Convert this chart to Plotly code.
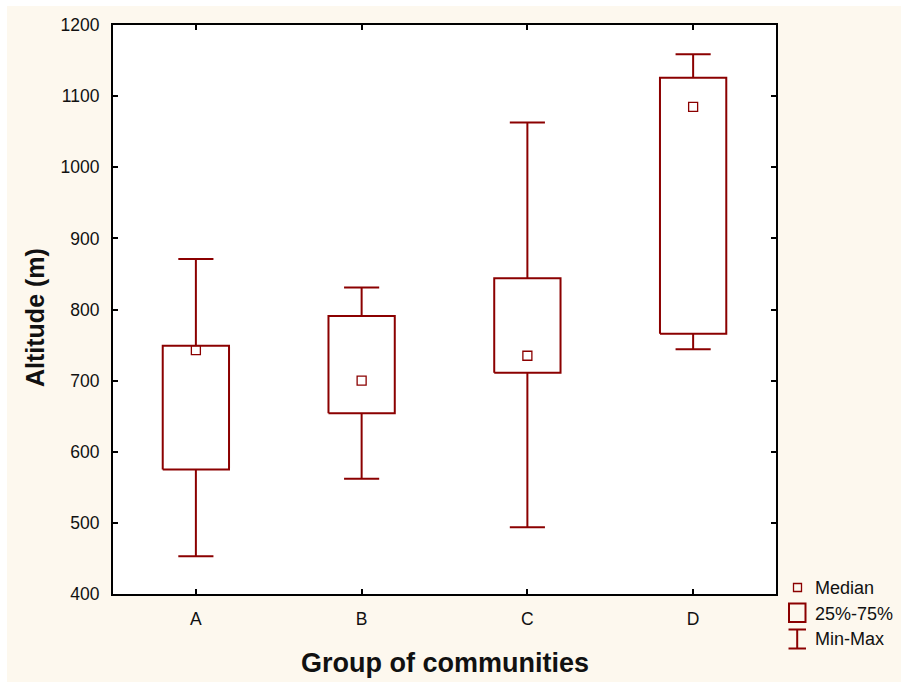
import plotly.graph_objects as go

# Altitude summary per group of communities (metres)
groups = ["A", "B", "C", "D"]
alt_min = [453, 562, 494, 744]
alt_q1 = [575, 654, 711, 766]
alt_median = [743, 700, 735, 1085]
alt_q3 = [749, 791, 844, 1126]
alt_max = [871, 831, 1063, 1159]

y_ticks = [400, 500, 600, 700, 800, 900, 1000, 1100, 1200]

DARK_RED = "#8B0000"
BG = "#FDF8EE"
FONT = "Arial, Liberation Sans, sans-serif"

BOX_HALF = 0.2     # half width of the 25%-75% box, in category units
CAP_HALF = 0.106   # half width of the whisker caps

# Build box outlines and whiskers from the summary values
box_x, box_y, wh_x, wh_y = [], [], [], []
for i in range(len(groups)):
    xl, xr = i - BOX_HALF, i + BOX_HALF
    box_x += [xl, xr, xr, xl, xl, None]
    box_y += [alt_q1[i], alt_q1[i], alt_q3[i], alt_q3[i], alt_q1[i], None]
    cl, cr = i - CAP_HALF, i + CAP_HALF
    wh_x += [i, i, None, cl, cr, None, i, i, None, cl, cr, None]
    wh_y += [alt_q3[i], alt_max[i], None, alt_max[i], alt_max[i], None,
             alt_q1[i], alt_min[i], None, alt_min[i], alt_min[i], None]

fig = go.Figure()
fig.add_trace(go.Scatter(x=wh_x, y=wh_y, mode="lines",
                         line=dict(color=DARK_RED, width=2),
                         hoverinfo="skip", showlegend=False))
fig.add_trace(go.Scatter(x=box_x, y=box_y, mode="lines",
                         line=dict(color=DARK_RED, width=2),
                         hoverinfo="skip", showlegend=False))
fig.add_trace(go.Scatter(x=list(range(len(groups))), y=alt_median, mode="markers",
                         marker=dict(symbol="square-open", size=9, color=DARK_RED,
                                     line=dict(width=1.3, color=DARK_RED)),
                         showlegend=False))

# Plot-area pixel geometry for positioning the legend and titles
L, R, T, B = 113, 776, 25, 594
W, H = R - L, B - T


def px(xp):
    return (xp - L) / W


def py(yp):
    return (B - yp) / H


shapes = []
# Thin white frame along the top and left edges of the page
shapes.append(dict(type="rect", xref="paper", yref="paper",
                   x0=px(0), x1=px(901), y0=py(6), y1=py(0),
                   line=dict(width=0), fillcolor="white", layer="below"))
shapes.append(dict(type="rect", xref="paper", yref="paper",
                   x0=px(0), x1=px(7), y0=py(682), y1=py(0),
                   line=dict(width=0), fillcolor="white", layer="below"))
# Median icon
shapes.append(dict(type="rect", xref="paper", yref="paper",
                   x0=px(793.5), x1=px(801.5), y0=py(591.5), y1=py(583.5),
                   line=dict(color=DARK_RED, width=1.3), fillcolor="rgba(0,0,0,0)"))
# 25%-75% icon
shapes.append(dict(type="rect", xref="paper", yref="paper",
                   x0=px(789), x1=px(805.5), y0=py(622), y1=py(603.5),
                   line=dict(color=DARK_RED, width=2), fillcolor="rgba(0,0,0,0)"))
# Min-Max icon
for (x0, y0, x1, y1) in [(788.5, 629.5, 806, 629.5), (788.5, 648.5, 806, 648.5),
                         (797.2, 629.5, 797.2, 648.5)]:
    shapes.append(dict(type="line", xref="paper", yref="paper",
                       x0=px(x0), y0=py(y0), x1=px(x1), y1=py(y1),
                       line=dict(color=DARK_RED, width=2)))

annotations = []
for label, yc in [("Median", 588), ("25%-75%", 614), ("Min-Max", 638.5)]:
    annotations.append(dict(text=label, xref="paper", yref="paper",
                            x=px(813), y=py(yc), xanchor="left", yanchor="middle",
                            showarrow=False, font=dict(family=FONT, size=18, color="#111")))

annotations.append(dict(text="<b>Group of communities</b>", xref="paper", yref="paper",
                        x=0.5, y=py(663), xanchor="center", yanchor="middle",
                        showarrow=False, font=dict(family=FONT, size=27, color="#111")))
annotations.append(dict(text="<b>Altitude (m)</b>", xref="paper", yref="paper",
                        x=px(35), y=py(318), xanchor="center", yanchor="middle",
                        textangle=-90, showarrow=False,
                        font=dict(family=FONT, size=25, color="#111")))

axis_common = dict(showline=True, linecolor="black", linewidth=2, mirror="ticks",
                   ticks="inside", ticklen=5, tickwidth=1.5, tickcolor="black",
                   showgrid=False, zeroline=False,
                   tickfont=dict(family=FONT, size=17.5, color="#111"))

fig.update_layout(
    width=901, height=682,
    margin=dict(l=L, r=901 - R, t=T, b=682 - B, pad=0),
    paper_bgcolor=BG, plot_bgcolor="white",
    xaxis=dict(range=[-0.5, 3.5], tickmode="array",
               tickvals=list(range(len(groups))), ticktext=groups,
               ticklabelstandoff=8, **axis_common),
    yaxis=dict(range=[400, 1200], tickmode="array", tickvals=y_ticks,
               ticklabelstandoff=8, **axis_common),
    shapes=shapes, annotations=annotations,
    showlegend=False,
)

fig.write_html("out.html")
